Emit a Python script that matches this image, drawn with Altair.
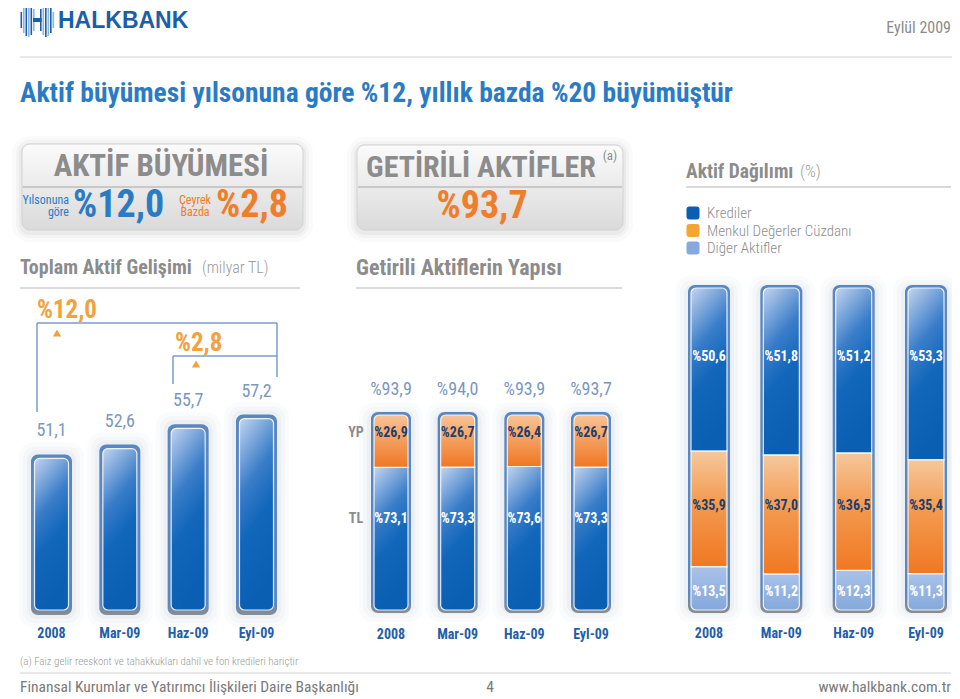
import altair as alt
import pandas as pd

# ---------------- data ----------------
periods = ["2008", "Mar-09", "Haz-09", "Eyl-09"]
toplam_aktif = [51.1, 52.6, 55.7, 57.2]          # milyar TL
getirili_toplam = [93.9, 94.0, 93.9, 93.7]       # %
yp_pay = [26.9, 26.7, 26.4, 26.7]                # %
tl_pay = [73.1, 73.3, 73.6, 73.3]                # %
krediler = [50.6, 51.8, 51.2, 53.3]              # %
menkul = [35.9, 37.0, 36.5, 35.4]                # %
diger = [13.5, 11.2, 12.3, 11.3]                 # %
legend_labels = ["Krediler", "Menkul Değerler Cüzdanı", "Diğer Aktifler"]


def tr(v):
    return f"{v:.1f}".replace(".", ",")


M = 8


def px(v):
    return v - M


FONT = "Roboto Condensed, Roboto, sans-serif"
WIDE = "Liberation Sans, Arial, sans-serif"
ONE = alt.Data(values=[{"a": 1}])

GRAY = "#8c8c8c"
CAT_BLUE = "#1f5ea8"
VAL_BLUE = "#7b97c0"
NAVY = "#1d3e6e"
ORANGE = "#f07d2a"
GOLD = "#f2a23c"
RIGHT = 951


def grad(stops, x1=0, y1=0, x2=0, y2=1):
    return {"gradient": "linear", "x1": x1, "y1": y1, "x2": x2, "y2": y2,
            "stops": [{"offset": o, "color": c} for o, c in stops]}


G_FRAME = grad([(0, "#5a87bf"), (0.94, "#5a87bf"), (1, "#8d8d8d")])
G_BLUE = grad([(0, "#c3d4ee"), (0.38, "#3a7dc9"), (0.62, "#1267bb"), (1, "#0a5fb3")], 0, 0, 0.25, 1)
G_ORANGE = grad([(0, "#f9c396"), (1, "#ef7722")])
G_MENKUL = grad([(0, "#f6c89c"), (0.45, "#f39a50"), (1, "#f07822")])
G_DIGER = grad([(0, "#a9c2e8"), (1, "#84a8dc")])
G_BOX = grad([(0, "#fbfbfb"), (1, "#dadada")])


def txt(x, y, s, size, color, weight="normal", align="left", font=FONT):
    return alt.Chart(ONE).mark_text(
        text=s, font=font, fontSize=size, fontWeight=weight,
        color=color, align=align, baseline="middle"
    ).encode(x=alt.value(px(x)), y=alt.value(px(y)))


def hline(x1, x2, y, color="#bdbdbd", w=1.0):
    return alt.Chart(ONE).mark_rule(color=color, strokeWidth=w).encode(
        x=alt.value(px(x1)), x2=alt.value(px(x2)), y=alt.value(px(y)))


def vline(x, y1, y2, color, w=1.0):
    return alt.Chart(ONE).mark_rule(color=color, strokeWidth=w).encode(
        x=alt.value(px(x)), y=alt.value(px(y1)), y2=alt.value(px(y2)))


def box(x1, y1, x2, y2, **kw):
    return alt.Chart(ONE).mark_rect(**kw).encode(
        x=alt.value(px(x1)), x2=alt.value(px(x2)),
        y=alt.value(px(y1)), y2=alt.value(px(y2)))


def tri(x, y, color):
    return alt.Chart(ONE).mark_point(shape="triangle-up", filled=True, size=70,
                                     color=color, opacity=1).encode(
        x=alt.value(px(x)), y=alt.value(px(y)))


deco = []

# ---- logo and page header ----
stripe_cols = ["#1b5fa9", "#8ab6e4"]
stripes = [(20.5, 12, 28), (23, 7, 33), (25.5, 4, 36), (28, 3, 37), (30.5, 5, 35), (33, 9, 31),
           (40, 9, 31), (42.5, 5, 35), (45, 3, 37), (47.5, 4, 36), (50, 7, 33), (52.5, 12, 28)]
for i, (sx, a, b) in enumerate(stripes):
    deco.append(box(sx, a, sx + 1.6, b, color=stripe_cols[i % 2]))
deco.append(box(33, 18, 41.6, 22, color="#1b5fa9"))
deco.append(txt(58, 21, "HALKBANK", 23, "#1b5fa9", weight="bold", font=WIDE))
deco.append(txt(RIGHT, 28, "Eylül 2009", 16, GRAY, align="right"))
deco.append(hline(20, 952, 57, "#d0d0d0"))
deco.append(txt(20, 94, "Aktif büyümesi yılsonuna göre %12, yıllık bazda %20 büyümüştür",
                27.5, "#2b7bc4", weight="bold"))

# ---- header boxes ----
for (bx1, by1, bx2, by2) in [(22, 144, 303, 230), (357, 145, 623, 230)]:
    for k, op in [(10, 0.04), (6, 0.05), (3, 0.07)]:
        deco.append(box(bx1 - k, by1 - k + 2, bx2 + k, by2 + k + 2,
                        color="#7a7a7a", opacity=op, cornerRadius=8 + k))
    deco.append(box(bx1, by1, bx2, by2, fill=G_BOX, stroke="#d2d2d2", strokeWidth=1, cornerRadius=8))
    deco.append(hline(bx1 + 1, bx2 - 1, 187, "#a6a6a6"))

deco.append(txt(161, 167, "AKTİF BÜYÜMESİ", 31, GRAY, weight="bold", align="center"))
deco.append(txt(69, 200, "Yılsonuna", 12, "#2b7bc4", align="right"))
deco.append(txt(69, 212, "göre", 12, "#2b7bc4", align="right"))
deco.append(txt(73, 206, "%" + tr(12.0), 38, "#2b7bc4", weight="bold"))
deco.append(txt(195, 200, "Çeyrek", 12, ORANGE, align="center"))
deco.append(txt(195, 212, "Bazda", 12, ORANGE, align="center"))
deco.append(txt(216, 206, "%" + tr(2.8), 38, ORANGE, weight="bold"))

deco.append(txt(481, 168, "GETİRİLİ AKTİFLER", 30, GRAY, weight="bold", align="center"))
deco.append(txt(610, 156, "(a)", 13, GRAY, align="center"))
deco.append(txt(482, 207, "%" + tr(getirili_toplam[-1]), 38, ORANGE, weight="bold", align="center"))

# ---- section headings ----
deco.append(txt(20, 268, "Toplam Aktif Gelişimi", 20, GRAY, weight="bold"))
deco.append(txt(202, 268, "(milyar TL)", 16, "#9a9a9a", weight=300))
deco.append(hline(20, 300, 288, "#b5b5b5"))
deco.append(txt(356, 268, "Getirili Aktiflerin Yapısı", 22, GRAY, weight="bold"))
deco.append(hline(356, 622, 288, "#b5b5b5"))
deco.append(txt(686, 172, "Aktif Dağılımı", 19.5, GRAY, weight="bold"))
deco.append(txt(800, 172, "(%)", 17, "#9a9a9a", weight=300))
deco.append(hline(686, RIGHT, 187, "#b5b5b5"))

# ---- growth brackets (panel 1) ----
BR = "#7d9cc6"
deco.append(vline(37, 323, 412, BR, 1.5))
deco.append(hline(37, 277, 323, BR, 1.5))
deco.append(vline(277, 323, 377, BR, 1.5))
deco.append(vline(173, 356, 384, BR, 1.5))
deco.append(hline(173, 277, 356, BR, 1.5))
deco.append(txt(37, 310, "%" + tr(12.0), 25, GOLD, weight="bold"))
deco.append(txt(175, 343, "%" + tr(2.8), 25, GOLD, weight="bold"))
deco.append(tri(57, 333, GOLD))
deco.append(tri(196, 364, GOLD))

# ---- side labels panel 2 ----
deco.append(txt(356, 433, "YP", 14, GRAY, weight="bold", align="center"))
deco.append(txt(356, 519, "TL", 14, GRAY, weight="bold", align="center"))

# ---- footer ----
deco.append(txt(20, 662, "(a) Faiz gelir reeskont ve tahakkukları dahil ve fon kredileri hariçtir", 11, "#9a9a9a", weight=300))
deco.append(hline(20, RIGHT, 673, "#d0d0d0"))
deco.append(txt(20, 687, "Finansal Kurumlar ve Yatırımcı İlişkileri Daire Başkanlığı", 15.5, "#7a7a7a"))
deco.append(txt(490, 687, "4", 15.5, "#7a7a7a", align="center"))
deco.append(txt(RIGHT, 687, "www.halkbank.com.tr", 15.5, "#7a7a7a", align="right"))


def glow(chart_base, width, y, y2):
    out = []
    for k, op in [(12, 0.035), (8, 0.045), (4, 0.06)]:
        out.append(chart_base.mark_bar(width=width + 2 * k, yOffset=-k, y2Offset=k,
                                       cornerRadius=8 + k / 2, color="#7d8ca5",
                                       opacity=op).encode(y=y, y2=y2))
    return out


def cat_labels(chart_base, yv):
    return chart_base.mark_text(font=FONT, fontSize=14, fontWeight="bold", color=CAT_BLUE,
                                baseline="middle").encode(y=alt.value(px(yv)), text="donem:N")


def xscale(lo, hi):
    return alt.X("donem:N", sort=periods, axis=None,
                 scale=alt.Scale(type="point", domain=periods, range=[px(lo), px(hi)], padding=0))


STK = dict(stroke="white", strokeWidth=1.2, strokeOpacity=0.85)

# ---------------- panel 1: Toplam aktif ----------------
df1 = pd.DataFrame({"donem": periods, "deger": toplam_aktif,
                    "etiket": [tr(v) for v in toplam_aktif]})
base1 = 26.5
X1 = xscale(51.5, 256.5)
Y1 = alt.Y("deger:Q", axis=None,
           scale=alt.Scale(domain=[base1, 60], range=[px(615), px(396.3)], nice=False, zero=False))
b1 = alt.Chart(df1).encode(x=X1)
p1 = glow(b1, 41, Y1, alt.datum(base1))
p1 += [
    b1.mark_bar(width=41, cornerRadius=7, fill=G_FRAME).encode(y=Y1, y2=alt.datum(base1)),
    b1.mark_bar(width=34, yOffset=4, y2Offset=-5, cornerRadius=5, fill=G_BLUE, **STK).encode(
        y=Y1, y2=alt.datum(base1)),
    b1.mark_text(font=FONT, fontSize=18, color=VAL_BLUE, dy=-23, baseline="middle").encode(y=Y1, text="etiket:N"),
    cat_labels(b1, 634),
]

# ---------------- panel 2: Getirili aktifler ----------------
rows2 = []
for p, t, yp, tot in zip(periods, tl_pay, yp_pay, getirili_toplam):
    rows2.append({"donem": p, "seg": "TL", "lo": 0.0, "hi": t, "etiket": "%" + tr(t), "toplam": "%" + tr(tot)})
    rows2.append({"donem": p, "seg": "YP", "lo": t, "hi": 100.0, "etiket": "%" + tr(yp), "toplam": "%" + tr(tot)})
df2 = pd.DataFrame(rows2)
X2 = xscale(391, 591)
S2 = alt.Scale(domain=[0, 100], range=[px(610), px(415)], nice=False, zero=False)
b2 = alt.Chart(df2).encode(x=X2)
b2t = b2.transform_filter(alt.datum.seg == "TL")
b2y = b2.transform_filter(alt.datum.seg == "YP")
FULL2 = alt.Y(datum=100, scale=S2, axis=None)
p2 = glow(b2t, 40, FULL2, alt.datum(0))
p2 += [
    b2t.mark_bar(width=40, cornerRadius=7, yOffset=-3, y2Offset=3, fill=G_FRAME).encode(y=FULL2, y2=alt.datum(0)),
    b2t.mark_bar(width=34, cornerRadiusBottomLeft=5, cornerRadiusBottomRight=5, fill=G_BLUE, **STK).encode(
        y=alt.Y("hi:Q", scale=S2, axis=None), y2="lo:Q"),
    b2y.mark_bar(width=34, cornerRadiusTopLeft=5, cornerRadiusTopRight=5, fill=G_ORANGE, **STK).encode(
        y=alt.Y("hi:Q", scale=S2, axis=None), y2="lo:Q"),
    b2t.mark_text(font=FONT, fontSize=18, color=VAL_BLUE, dy=-25, baseline="middle").encode(
        y=FULL2, text="toplam:N"),
    b2y.mark_text(font=FONT, fontSize=14, fontWeight="bold", color=NAVY, baseline="middle").encode(
        y=alt.value(px(433)), text="etiket:N"),
    b2t.mark_text(font=FONT, fontSize=14, fontWeight="bold", color="white", baseline="middle").encode(
        y=alt.value(px(519)), text="etiket:N"),
    cat_labels(b2t, 635),
]

# ---------------- panel 3: Aktif dağılımı ----------------
rows3 = []
for p, k, m, d in zip(periods, krediler, menkul, diger):
    rows3.append({"donem": p, "seg": legend_labels[2], "lo": 0.0, "hi": d, "etiket": "%" + tr(d)})
    rows3.append({"donem": p, "seg": legend_labels[1], "lo": d, "hi": d + m, "etiket": "%" + tr(m)})
    rows3.append({"donem": p, "seg": legend_labels[0], "lo": d + m, "hi": 100.0, "etiket": "%" + tr(k)})
df3 = pd.DataFrame(rows3)
X3 = xscale(709, 926)
S3 = alt.Scale(domain=[0, 100], range=[px(610), px(288)], nice=False, zero=False)
b3 = alt.Chart(df3).encode(x=X3)
b3k = b3.transform_filter(alt.datum.seg == legend_labels[0])
b3m = b3.transform_filter(alt.datum.seg == legend_labels[1])
b3d = b3.transform_filter(alt.datum.seg == legend_labels[2])
FULL3 = alt.Y(datum=100, scale=S3, axis=None)
SEGY = alt.Y("hi:Q", scale=S3, axis=None)
p3 = glow(b3k, 42, FULL3, alt.datum(0))
p3 += [
    b3k.mark_bar(width=42, cornerRadius=7, yOffset=-3, y2Offset=3, fill=G_FRAME).encode(y=FULL3, y2=alt.datum(0)),
    b3d.mark_bar(width=36, cornerRadiusBottomLeft=5, cornerRadiusBottomRight=5, fill=G_DIGER, **STK).encode(y=SEGY, y2="lo:Q"),
    b3m.mark_bar(width=36, fill=G_MENKUL, **STK).encode(y=SEGY, y2="lo:Q"),
    b3k.mark_bar(width=36, cornerRadiusTopLeft=5, cornerRadiusTopRight=5, fill=G_BLUE, **STK).encode(y=SEGY, y2="lo:Q"),
    b3k.mark_text(font=FONT, fontSize=14, fontWeight="bold", color="white", baseline="middle").encode(
        y=alt.value(px(357)), text="etiket:N"),
    b3m.mark_text(font=FONT, fontSize=14, fontWeight="bold", color=NAVY, baseline="middle").encode(
        y=alt.value(px(506)), text="etiket:N"),
    b3d.mark_text(font=FONT, fontSize=14, fontWeight="bold", color="white", baseline="middle").encode(
        y=alt.value(px(592)), text="etiket:N"),
    cat_labels(b3k, 634),
]

# legend
dfl = pd.DataFrame({"seg": legend_labels})
LY = alt.Y("seg:N", sort=legend_labels, axis=None,
           scale=alt.Scale(type="point", domain=legend_labels, range=[px(213), px(248)], padding=0))
RSQ = "M-1,-0.55 Q-1,-1 -0.55,-1 L0.55,-1 Q1,-1 1,-0.55 L1,0.55 Q1,1 0.55,1 L-0.55,1 Q-1,1 -1,0.55 Z"
bl = alt.Chart(dfl).encode(y=LY)
pl = [
    bl.mark_point(shape=RSQ, filled=True, size=170, opacity=1).encode(
        x=alt.value(px(693)),
        color=alt.Color("seg:N", legend=None,
                        scale=alt.Scale(domain=legend_labels, range=["#0a5fb4", "#f6a532", "#86a9dc"]))),
    bl.mark_text(font=FONT, fontSize=15, fontWeight=300, color="#8e8e8e", align="left", baseline="middle").encode(
        x=alt.value(px(707)), text="seg:N"),
]

chart = alt.layer(
    alt.layer(*deco),
    alt.layer(*p1),
    alt.layer(*p2),
    alt.layer(*p3),
    alt.layer(*pl),
).resolve_scale(x="independent", y="independent", color="independent").properties(
    width=944, height=691, padding=0, autosize=alt.AutoSizeParams(type="none"),
    background="white",
).configure_view(strokeWidth=0)

chart.save("out.html", embed_options={"renderer": "svg", "actions": False})
